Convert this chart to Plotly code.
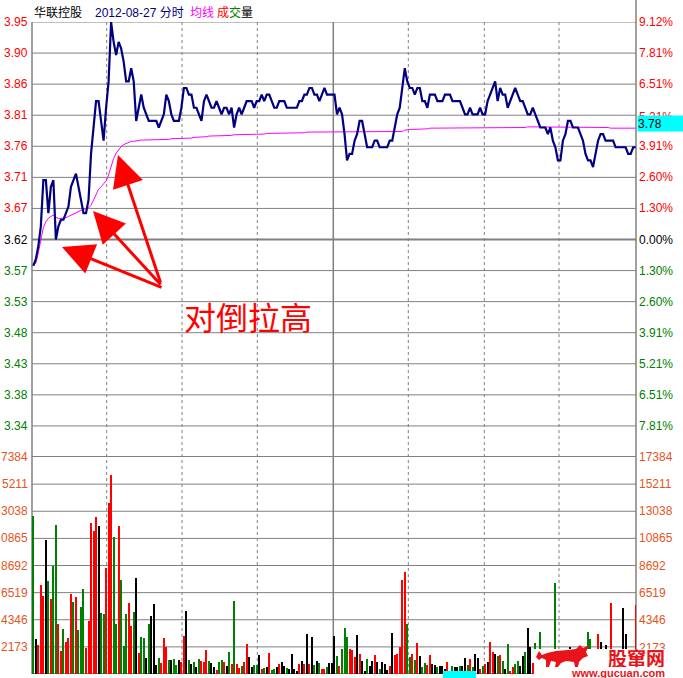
import plotly.graph_objects as go

# ---------------- data ----------------
minutes = list(range(241))

price = [
    3.58, 3.59, 3.61, 3.64, 3.71, 3.71, 3.66, 3.70, 3.71, 3.62,
    3.64, 3.65, 3.65, 3.66, 3.67, 3.70, 3.71, 3.72, 3.70, 3.68,
    3.66, 3.66, 3.68, 3.75, 3.79, 3.83, 3.83, 3.80, 3.77, 3.82,
    3.86, 3.95, 3.92, 3.90, 3.92, 3.91, 3.89, 3.86, 3.86, 3.88,
    3.86, 3.80, 3.82, 3.84, 3.82, 3.81, 3.80, 3.80, 3.80, 3.80,
    3.79, 3.80, 3.81, 3.84, 3.83, 3.81, 3.80, 3.80, 3.80, 3.82,
    3.85, 3.85, 3.84, 3.84, 3.82, 3.82, 3.81, 3.80, 3.83, 3.84,
    3.83, 3.82, 3.82, 3.83, 3.82, 3.81, 3.82, 3.82, 3.81, 3.82,
    3.79, 3.81, 3.82, 3.81, 3.82, 3.83, 3.83, 3.83, 3.82, 3.83,
    3.83, 3.84, 3.83, 3.84, 3.84, 3.83, 3.82, 3.82, 3.83, 3.83,
    3.83, 3.82, 3.82, 3.82, 3.82, 3.82, 3.83, 3.83, 3.84, 3.84,
    3.85, 3.85, 3.84, 3.84, 3.83, 3.84, 3.85, 3.84, 3.84, 3.84,
    3.84, 3.81, 3.82, 3.81, 3.78, 3.74, 3.75, 3.75, 3.77, 3.78,
    3.80, 3.80, 3.78, 3.76, 3.76, 3.76, 3.77, 3.77, 3.76, 3.76,
    3.76, 3.76, 3.77, 3.77, 3.79, 3.81, 3.82, 3.85, 3.88, 3.86,
    3.85, 3.85, 3.84, 3.85, 3.85, 3.83, 3.83, 3.82, 3.84, 3.84,
    3.84, 3.83, 3.83, 3.83, 3.84, 3.84, 3.84, 3.83, 3.83, 3.83,
    3.83, 3.82, 3.81, 3.81, 3.82, 3.81, 3.81, 3.81, 3.82, 3.81,
    3.81, 3.83, 3.84, 3.85, 3.86, 3.83, 3.85, 3.84, 3.84, 3.82,
    3.83, 3.84, 3.85, 3.84, 3.83, 3.83, 3.82, 3.81, 3.81, 3.82,
    3.81, 3.80, 3.79, 3.79, 3.79, 3.78, 3.79, 3.77, 3.76, 3.74,
    3.74, 3.77, 3.78, 3.80, 3.80, 3.79, 3.79, 3.79, 3.78, 3.77,
    3.75, 3.74, 3.74, 3.73, 3.75, 3.77, 3.78, 3.78, 3.77, 3.77,
    3.77, 3.77, 3.76, 3.76, 3.76, 3.76, 3.76, 3.75, 3.75, 3.76, 3.76,
]

avg_price = [
    3.583, 3.584, 3.600, 3.620, 3.638, 3.647, 3.652, 3.655, 3.657, 3.654,
    3.652, 3.652, 3.652, 3.653, 3.655, 3.657, 3.659, 3.661, 3.663, 3.665,
    3.666, 3.667, 3.668, 3.672, 3.680, 3.689, 3.696, 3.700, 3.704, 3.709,
    3.718, 3.732, 3.743, 3.751, 3.757, 3.761, 3.764, 3.766, 3.768, 3.769,
    3.769, 3.770, 3.770, 3.771, 3.771, 3.771, 3.771, 3.771, 3.772, 3.772,
    3.772, 3.772, 3.772, 3.772, 3.772, 3.773, 3.773, 3.773, 3.773, 3.773,
    3.773, 3.773, 3.774, 3.774, 3.775, 3.775, 3.775, 3.776, 3.776, 3.776,
    3.777, 3.777, 3.777, 3.777, 3.777, 3.778, 3.778, 3.778, 3.778, 3.778,
    3.779, 3.779, 3.779, 3.779, 3.779, 3.779, 3.780, 3.780, 3.780, 3.780,
    3.780, 3.780, 3.780, 3.781, 3.781, 3.781, 3.781, 3.781, 3.781, 3.781,
    3.781, 3.781, 3.781, 3.782, 3.782, 3.782, 3.782, 3.782, 3.782, 3.783,
    3.783, 3.783, 3.783, 3.783, 3.783, 3.783, 3.783, 3.783, 3.783, 3.783,
    3.783, 3.783, 3.783, 3.783, 3.783, 3.783, 3.783, 3.783, 3.783, 3.783,
    3.783, 3.783, 3.783, 3.783, 3.783, 3.783, 3.783, 3.783, 3.783, 3.783,
    3.783, 3.783, 3.783, 3.783, 3.783, 3.784, 3.784, 3.784, 3.786, 3.787,
    3.787, 3.787, 3.787, 3.788, 3.788, 3.788, 3.788, 3.788, 3.789, 3.789,
    3.789, 3.789, 3.789, 3.789, 3.789, 3.789, 3.789, 3.789, 3.789, 3.789,
    3.789, 3.789, 3.789, 3.789, 3.789, 3.789, 3.789, 3.789, 3.789, 3.789,
    3.789, 3.789, 3.789, 3.789, 3.789, 3.789, 3.789, 3.789, 3.789, 3.789,
    3.789, 3.789, 3.789, 3.789, 3.789, 3.790, 3.790, 3.791, 3.791, 3.791,
    3.791, 3.791, 3.791, 3.791, 3.791, 3.791, 3.791, 3.791, 3.790, 3.790,
    3.790, 3.790, 3.790, 3.790, 3.790, 3.790, 3.790, 3.790, 3.790, 3.790,
    3.790, 3.790, 3.790, 3.790, 3.790, 3.790, 3.790, 3.790, 3.790, 3.790,
    3.789, 3.789, 3.789, 3.789, 3.789, 3.789, 3.789, 3.789, 3.789, 3.789, 3.789,
]

volume = [
    12620, 2830, 2330, 7140, 6260, 10750, 7460, 6010, 8660, 11950,
    3980, 1840, 3610, 2540, 2890, 6420, 5770, 6180, 3530, 5370,
    6820, 2090, 4250, 12110, 11470, 12590, 11870, 4890, 4810, 8500,
    13710, 15960, 10990, 4010, 11870, 7540, 2250, 4810, 5690, 3850,
    4970, 7700, 1680, 2970, 2890, 1280, 4010, 4650, 5610, 720,
    1280, 880, 2890, 2170, 1120, 1120, 1200, 720, 1120, 960,
    3050, 5050, 1120, 800, 960, 560, 1200, 1040, 960, 1920,
    1040, 880, 560, 320, 960, 1120, 960, 640, 1760, 800,
    5850, 800, 480, 640, 960, 2410, 1360, 560, 720, 720,
    1520, 400, 480, 560, 1680, 320, 400, 560, 800, 960,
    640, 480, 400, 1600, 400, 240, 800, 1040, 800, 3210,
    800, 2970, 720, 1040, 880, 400, 400, 560, 880, 880,
    3050, 1440, 640, 2000, 3690, 2970, 2000, 1920, 1360, 3130,
    1600, 1040, 240, 1200, 640, 1040, 1520, 960, 400, 960,
    800, 320, 640, 3290, 1520, 1600, 2170, 7540, 8180, 4010,
    1360, 1600, 1120, 2490, 1440, 560, 880, 720, 1520, 800,
    720, 560, 640, 640, 400, 960, 240, 640, 560, 560,
    640, 640, 1280, 720, 1200, 560, 1600, 1280, 400, 640,
    800, 960, 2570, 1760, 1600, 1440, 1520, 1040, 400, 2410,
    240, 560, 800, 1040, 640, 1440, 1760, 3690, 2170, 880,
    2490, 900, 3370, 700, 1100, 600, 900, 800, 7300, 500,
    800, 900, 1000, 600, 2170, 700, 900, 600, 500, 1100,
    800, 3370, 2810, 900, 700, 3210, 2590, 800, 2330, 700,
    5690, 1200, 900, 600, 800, 5290, 3210, 800, 900, 1200, 5530,
]

# 1 = up (red), -1 = down (green), 0 = unchanged (black)
direction = [
    -1, 0, 1, 1, 1, 0, -1, 1, -1, -1,
    1, 1, -1, 1, 1, 1, -1, 1, -1, -1,
    -1, 1, 1, 1, 1, 1, 0, -1, -1, 1,
    1, 1, -1, -1, 1, -1, -1, -1, 1, 1,
    -1, 0, 1, -1, -1, 0, -1, 0, 0, 0,
    -1, 1, 1, 1, -1, 0, -1, -1, 0, 1,
    1, 0, -1, 0, -1, 0, -1, 1, 1, 1,
    -1, 0, 0, 1, -1, -1, 1, 0, -1, 1,
    -1, 1, 1, -1, 1, 1, 0, 0, -1, -1,
    0, 1, -1, 0, 1, -1, -1, 0, 1, 0,
    0, -1, 0, 0, 0, 0, 1, 0, 1, 0,
    1, 0, -1, 0, -1, 1, 1, -1, 0, 0,
    0, -1, 1, -1, -1, -1, 1, 1, 1, 0,
    1, 0, 0, -1, 0, 0, 1, 0, -1, 0,
    0, 0, 1, 0, 1, 1, 1, 1, 1, -1,
    -1, 1, -1, 1, 0, -1, -1, 1, 1, 0,
    0, -1, 0, 0, 0, 1, 0, -1, 0, 0,
    -1, 0, 0, -1, 1, -1, 0, 0, 1, -1,
    1, 0, 1, 1, 0, -1, 1, -1, 0, -1,
    1, 1, -1, -1, 0, 0, -1, 0, 0, 1,
    -1, 1, -1, 0, 1, -1, 0, 1, -1, 1,
    0, -1, 1, 0, 0, -1, 1, 0, -1, 1,
    0, -1, -1, 1, 0, 1, 0, -1, 0, 1,
    1, 0, -1, 1, 0, 0, 0, -1, 1, 0, 1,
]

prev_close = 3.62
grid_step_pct = 1.3029
price_tick_labels = ["3.95", "3.90", "3.86", "3.81", "3.76", "3.71", "3.67",
                     "3.62", "3.57", "3.53", "3.48", "3.43", "3.38", "3.34"]
pct_tick_labels = ["9.12%", "7.81%", "6.51%", "5.21%", "3.91%", "2.60%", "1.30%",
                   "0.00%", "1.30%", "2.60%", "3.91%", "5.21%", "6.51%", "7.81%"]
vol_tick_values = [17384, 15211, 13038, 10865, 8692, 6519, 4346, 2173]
vol_labels_left = ["7384", "5211", "3038", "0865", "8692", "6519", "4346", "2173"]
vol_labels_right = ["17384", "15211", "13038", "10865", "8692", "6519", "4346", "2173"]
vol_max = 17384

title_parts = [("华联控股", "#000000"), ("2012-08-27 分时", "#000080"), ("均线", "#FF00FF"),
               ("成", "#FF0000"), ("交", "#008000"), ("量", "#000000")]
current_label = "3.78"
note_text = "对倒拉高"
logo_text = "股窜网"
logo_url = "www.gucuan.com"

# ---------------- layout helpers ----------------
W, H = 683, 678
L, R, T, B = 32, 636, 22, 674


def px(x):
    return (x - L) / (R - L)


def py(y):
    return (B - y) / (B - T)


split = (B - 457) / (B - T)
p_lo = prev_close * (1 - 7 * grid_step_pct / 100)
p_hi = prev_close * (1 + 7 * grid_step_pct / 100)
grid_prices = [prev_close * (1 + k * grid_step_pct / 100) for k in range(7, -8, -1)]

FONT = "Liberation Sans, Arial, sans-serif"
CJK = "Noto Sans CJK SC, sans-serif"
GRID = "#808080"
RED, GREEN, BLACK = "#FF0000", "#008000", "#000000"
VOLC = "#E4561E"
LOGO = "#E8141C"

bar_colors = [RED if d > 0 else (GREEN if d < 0 else BLACK) for d in direction]

fig = go.Figure()
fig.add_trace(go.Bar(x=minutes, y=volume, yaxis="y2", width=0.42,
                     marker=dict(color=bar_colors, line=dict(width=0)),
                     hoverinfo="skip"))
fig.add_trace(go.Scatter(x=minutes, y=avg_price, mode="lines",
                         line=dict(color="#FF00FF", width=1), hoverinfo="skip"))
fig.add_trace(go.Scatter(x=minutes, y=price, mode="lines",
                         line=dict(color="#000080", width=2.2), hoverinfo="skip"))

shapes = []
for i, gp in enumerate(grid_prices):
    k = 7 - i
    w = 2 if k in (0, -7) else 1
    shapes.append(dict(type="line", xref="paper", yref="y", x0=0, x1=1, y0=gp, y1=gp,
                       line=dict(color=GRID, width=w), layer="below"))
for v in vol_tick_values[1:] + [0]:
    shapes.append(dict(type="line", xref="paper", yref="y2", x0=0, x1=1, y0=v, y1=v,
                       line=dict(color=GRID, width=2 if v == 0 else 1), layer="below"))
for xv in [106.7, 182, 257.3, 408.3, 484.3, 559]:
    shapes.append(dict(type="line", xref="paper", yref="paper", x0=px(xv), x1=px(xv),
                       y0=py(T), y1=py(B), line=dict(color=GRID, width=1, dash="dot"),
                       layer="below"))
shapes.append(dict(type="line", xref="paper", yref="paper", x0=px(333.3), x1=px(333.3),
                   y0=py(T), y1=py(B), line=dict(color=GRID, width=1.5), layer="below"))
shapes.append(dict(type="line", xref="paper", yref="paper", x0=px(32), x1=px(32),
                   y0=py(T), y1=py(B), line=dict(color=GRID, width=1.5), layer="below"))
shapes.append(dict(type="line", xref="paper", yref="paper", x0=px(636), x1=px(636),
                   y0=py(0), y1=py(678), line=dict(color=GRID, width=1.5), layer="below"))

shapes.append(dict(type="rect", xref="paper", yref="paper", x0=px(534), x1=px(684),
                   y0=py(678), y1=py(649), fillcolor="white", line=dict(width=0),
                   layer="above"))
shapes.append(dict(type="rect", xref="paper", yref="paper", x0=px(443), x1=px(476),
                   y0=py(678), y1=py(671), fillcolor="#00FFFF", line=dict(width=0),
                   layer="above"))
bull = [(536, 657), (539, 651), (542, 655), (547, 653), (556, 651), (568, 650), (576, 649),
        (580, 645), (583, 648), (589, 645), (586, 652), (588, 656), (583, 658), (579, 662),
        (578, 667), (575, 667), (574, 662), (566, 661), (561, 663), (558, 667), (555, 667),
        (556, 662), (551, 661), (549, 667), (546, 667), (546, 660), (542, 658), (539, 660)]
path = "M " + " L ".join(f"{px(a):.5f},{py(b):.5f}" for a, b in bull) + " Z"
shapes.append(dict(type="path", xref="paper", yref="paper", path=path,
                   fillcolor=LOGO, line=dict(width=0), layer="above"))

ann = []
for i, gp in enumerate(grid_prices[:-1]):
    k = 7 - i
    col = RED if k > 0 else (BLACK if k == 0 else GREEN)
    ann.append(dict(xref="paper", yref="y", x=px(29), y=gp, text=price_tick_labels[i],
                    xanchor="right", yanchor="middle", showarrow=False, borderpad=0,
                    font=dict(family=FONT, size=12, color=col)))
    if k == 4:
        ann.append(dict(xref="paper", yref="paper", x=px(638), y=py(109), text=pct_tick_labels[i],
                        xanchor="left", yanchor="top", valign="top", height=6,
                        showarrow=False, borderpad=0,
                        font=dict(family=FONT, size=12, color=col)))
    else:
        ann.append(dict(xref="paper", yref="y", x=px(638), y=gp, text=pct_tick_labels[i],
                        xanchor="left", yanchor="middle", showarrow=False, borderpad=0,
                        font=dict(family=FONT, size=12, color=col)))
for v, tl, tr in zip(vol_tick_values, vol_labels_left, vol_labels_right):
    ann.append(dict(xref="paper", yref="y2", x=px(29), y=v, text=tl, xanchor="right",
                    yanchor="middle", showarrow=False, borderpad=0,
                    font=dict(family=FONT, size=12, color=VOLC)))
    if v == vol_tick_values[-1]:
        ann.append(dict(xref="paper", yref="paper", x=px(638), y=py(639.5), text=tr,
                        xanchor="left", yanchor="top", valign="top", height=8,
                        showarrow=False, borderpad=0,
                        font=dict(family=FONT, size=12, color=VOLC)))
    else:
        ann.append(dict(xref="paper", yref="y2", x=px(638), y=v, text=tr, xanchor="left",
                        yanchor="middle", showarrow=False, borderpad=0,
                        font=dict(family=FONT, size=12, color=VOLC)))
ann.append(dict(xref="paper", yref="paper", x=px(636.5), y=py(123), text=current_label,
                xanchor="left", yanchor="middle", showarrow=False, bgcolor="#00FFFF",
                width=46, height=15, align="left", borderpad=0,
                font=dict(family=FONT, size=12, color=BLACK)))
title_x = [33, 94, 189, 216, 228, 240]
for (txt, col), xx in zip(title_parts, title_x):
    ann.append(dict(xref="paper", yref="paper", x=px(xx), y=py(12.5), text=txt,
                    xanchor="left", yanchor="middle", showarrow=False, borderpad=0,
                    font=dict(family=FONT + ", " + CJK, size=12, color=col)))
for tip, tail in [((62, 247), (163, 288)), ((93, 211), (162, 286)), ((118, 155), (161, 284))]:
    ann.append(dict(xref="paper", yref="paper", x=px(tip[0]), y=py(tip[1]), text="",
                    showarrow=True, ax=tail[0] - tip[0], ay=tail[1] - tip[1],
                    arrowhead=2, arrowsize=2.1, arrowwidth=3, arrowcolor=RED))
ann.append(dict(xref="paper", yref="paper", x=px(248), y=py(316), text=note_text,
                xanchor="center", yanchor="middle", showarrow=False,
                font=dict(family=CJK, size=32, color=RED)))
ann.append(dict(xref="paper", yref="paper", x=px(636), y=py(657), text="<b>" + logo_text + "</b>",
                xanchor="center", yanchor="middle", showarrow=False, borderpad=0,
                height=20, font=dict(family=CJK, size=19, color=LOGO)))
ann.append(dict(xref="paper", yref="paper", x=px(618), y=py(673), text="<b>" + logo_url + "</b>",
                xanchor="center", yanchor="middle", showarrow=False, borderpad=0,
                height=10, font=dict(family=FONT, size=11, color=LOGO)))

fig.update_layout(
    width=W, height=H,
    margin=dict(l=L, r=W - R, t=T, b=H - B, pad=0),
    paper_bgcolor="white", plot_bgcolor="white",
    showlegend=False, bargap=0,
    xaxis=dict(range=[-0.52, 240.12], visible=False, fixedrange=True),
    yaxis=dict(domain=[split, 1], range=[p_lo, p_hi], visible=False),
    yaxis2=dict(domain=[0, split], range=[0, vol_max], visible=False, anchor="x"),
    shapes=shapes, annotations=ann,
)

fig.write_html("out.html", config={"displayModeBar": False},
               post_script="document.body.style.margin='0';document.body.style.overflow='hidden';")
